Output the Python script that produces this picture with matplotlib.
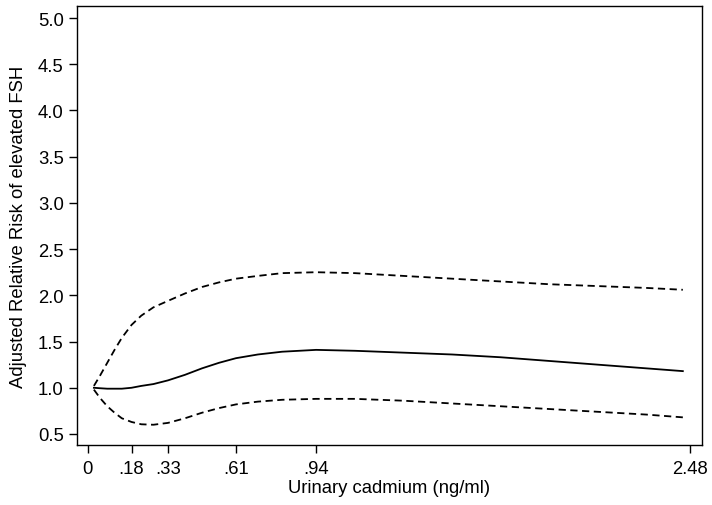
import matplotlib
matplotlib.use("Agg")
import matplotlib.pyplot as plt

plt.rcParams['font.family'] = ['Liberation Sans', 'DejaVu Sans']

x = [0.025, 0.05, 0.08, 0.11, 0.14, 0.18, 0.22, 0.27, 0.33, 0.40, 0.47, 0.54, 0.61, 0.70, 0.80, 0.94,
     1.1, 1.3, 1.5, 1.7, 1.9, 2.1, 2.3, 2.45]
rr = [1.00, 0.995, 0.99, 0.99, 0.99, 1.00, 1.02, 1.04, 1.08, 1.14, 1.21, 1.27, 1.32, 1.36, 1.39, 1.41,
      1.40, 1.38, 1.36, 1.33, 1.29, 1.25, 1.21, 1.18]
upper = [1.02, 1.13, 1.27, 1.41, 1.54, 1.68, 1.78, 1.87, 1.94, 2.02, 2.09, 2.14, 2.18, 2.21, 2.24, 2.25,
         2.24, 2.21, 2.18, 2.15, 2.12, 2.10, 2.08, 2.06]
lower = [0.98, 0.89, 0.80, 0.73, 0.67, 0.63, 0.605, 0.60, 0.62, 0.67, 0.73, 0.78, 0.82, 0.85, 0.87, 0.88,
         0.88, 0.86, 0.83, 0.80, 0.77, 0.74, 0.71, 0.68]

xticks = [0, 0.18, 0.33, 0.61, 0.94, 2.48]
xticklabels = ['0', '.18', '.33', '.61', '.94', '2.48']
yticks = [0.5, 1.0, 1.5, 2.0, 2.5, 3.0, 3.5, 4.0, 4.5, 5.0]

fig = plt.figure(figsize=(7.12, 5.06), dpi=100)
ax = fig.add_axes([0.108, 0.1186, 0.878, 0.8676])

ax.plot(x, rr, color='black', lw=1.3)
ax.plot(x, upper, color='black', lw=1.3, dashes=(4, 2.5))
ax.plot(x, lower, color='black', lw=1.3, dashes=(4, 2.5))

ax.set_xlim(-0.045, 2.529)
ax.set_ylim(0.381, 5.13)
ax.set_xticks(xticks)
ax.set_xticklabels(xticklabels)
ax.set_yticks(yticks)
ax.set_yticklabels([f'{v:.1f}' for v in yticks])
ax.tick_params(direction='out', length=5.5, width=1, labelsize=13.3, color='black')
ax.tick_params(axis='x', pad=5)
ax.tick_params(axis='y', pad=4)
for s in ax.spines.values():
    s.set_linewidth(1.0)

ax.set_xlabel('Urinary cadmium (ng/ml)', fontsize=13.3, labelpad=2)
ax.set_ylabel('Adjusted Relative Risk of elevated FSH', fontsize=13.3, labelpad=8)

fig.savefig('out.png', dpi=100)
